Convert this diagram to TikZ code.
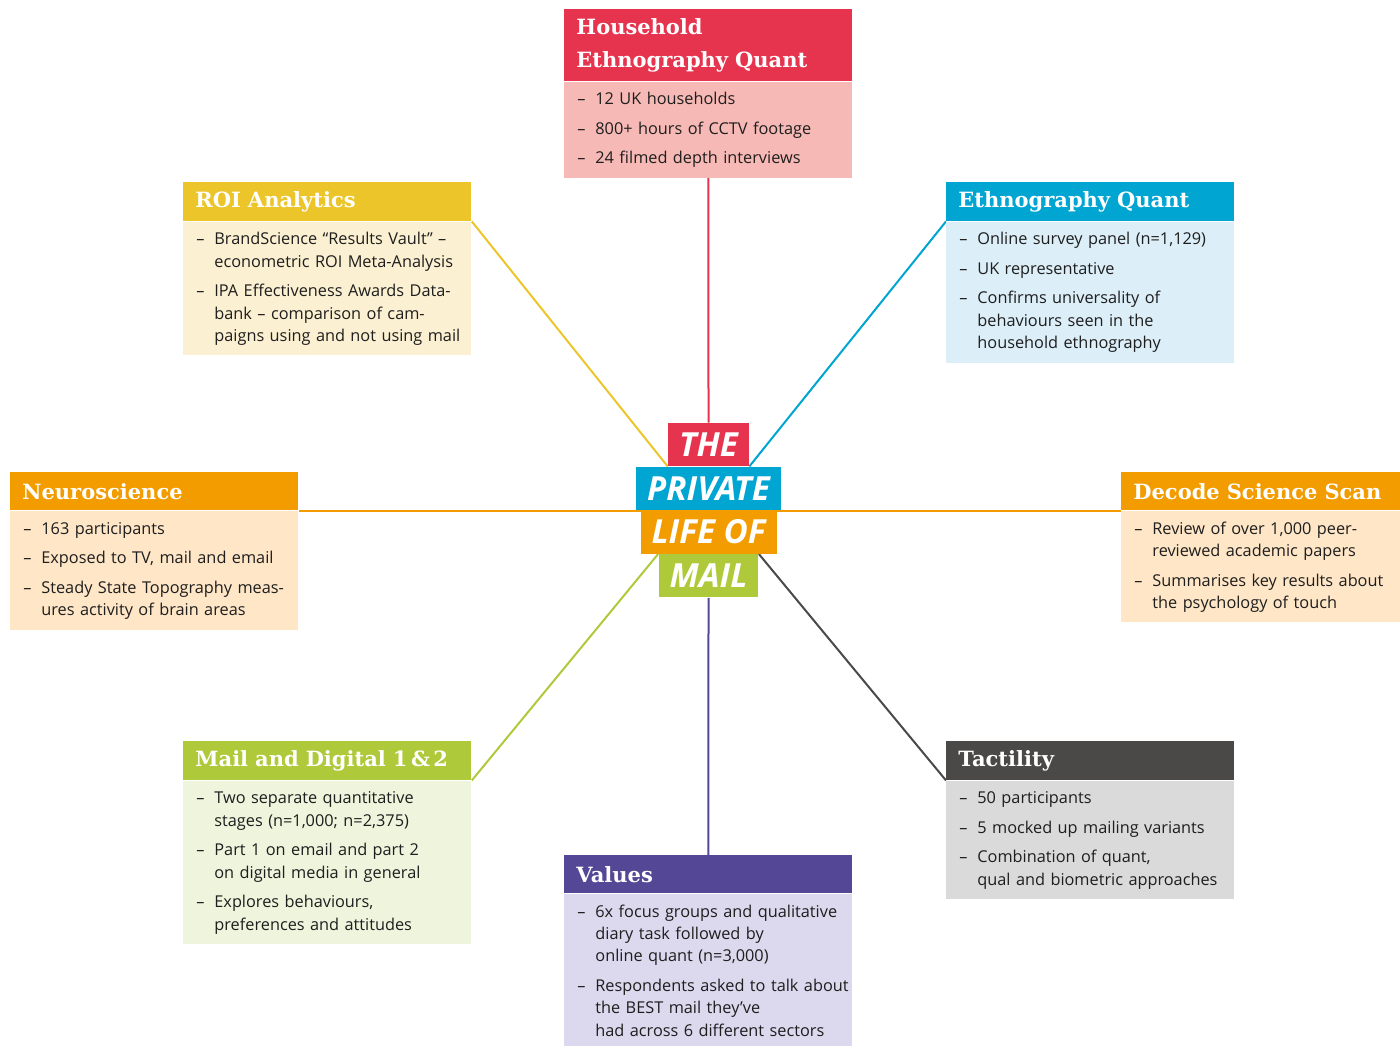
\documentclass[tikz,border=0pt]{standalone}
\usepackage{fontspec}
\setmainfont{Open Sans}
\newfontfamily\slabf{DejaVu Serif}
\newfontfamily\titlef{Open Sans}
\usepackage{xcolor}
\definecolor{redc}{HTML}{E6334E}
\definecolor{redl}{HTML}{F7B9B5}
\definecolor{yelc}{HTML}{ECC52A}
\definecolor{yell}{HTML}{FCF0D2}
\definecolor{bluc}{HTML}{00A5D2}
\definecolor{blul}{HTML}{DCEEF8}
\definecolor{orac}{HTML}{F39C00}
\definecolor{oral}{HTML}{FEE6C7}
\definecolor{grnc}{HTML}{AECA3A}
\definecolor{grnl}{HTML}{EFF4DD}
\definecolor{gryc}{HTML}{4A4948}
\definecolor{gryl}{HTML}{DADADA}
\definecolor{purc}{HTML}{544796}
\definecolor{purl}{HTML}{DCD8EE}
\definecolor{txtc}{HTML}{1E1E1E}
\usepackage{tikz}
\usetikzlibrary{positioning,backgrounds}
\tikzset{
  head/.style={anchor=north west,text=white,font=\slabf\bfseries\fontsize{10.5}{16.5}\selectfont,align=left,inner xsep=6pt,inner ysep=4.5pt,minimum height=19pt},
  body/.style={anchor=north west,text=txtc,font=\fontsize{8.15}{11.2}\selectfont,inner xsep=6.5pt,inner ysep=3.6pt},
  ttl/.style={text=white,font=\titlef\bfseries\itshape\fontsize{16.6}{18}\selectfont,inner xsep=5.5pt,inner ysep=0pt,minimum height=21.5pt},
  link/.style={line width=1pt},
}
\newcommand{\igap}{\\[3.6pt]}
\newcommand{\study}[7][144pt]{%
  \node[head,fill=#4,text width=#1-12pt] (#2) at (#3) {#6};
  \node[body,fill=#5,text width=#1-13pt] (#2-b) at (#2.south west)
    {\begin{tabular}{@{}p{9pt}@{}l@{}}#7\end{tabular}};}

\begin{document}
\begin{tikzpicture}[x=0.5pt,y=-0.5pt]
  \useasboundingbox (0,0) rectangle (1400,1045);
  \study{hh}{564,9}{redc}{redl}{Household\\Ethnography Quant}
    {– & 12 UK households\igap – & 800+ hours of CCTV footage\igap – & 24 filmed depth interviews}
  \study{roi}{183,182}{yelc}{yell}{ROI Analytics}
    {– & BrandScience “Results Vault” –\\ & econometric ROI Meta-Analysis\igap
     – & IPA Effectiveness Awards Data-\\ & bank – comparison of cam-\\ & paigns using and not using mail}
  \study{eth}{946,182}{bluc}{blul}{Ethnography Quant}
    {– & Online survey panel (n=1,129)\igap – & UK representative\igap
     – & Confirms universality of\\ & behaviours seen in the\\ & household ethnography}
  \study{neu}{10,472}{orac}{oral}{Neuroscience}
    {– & 163 participants\igap – & Exposed to TV, mail and email\igap
     – & Steady State Topography meas-\\ & ures activity of brain areas}
  \study[139.5pt]{dec}{1121,472}{orac}{oral}{Decode Science Scan}
    {– & Review of over 1,000 peer-\\ & reviewed academic papers\igap
     – & Summarises key results about\\ & the psychology of touch}
  \study{md}{183,741}{grnc}{grnl}{Mail and Digital 1\,\&\,2}
    {– & Two separate quantitative\\ & stages (n=1,000; n=2,375)\igap
     – & Part 1 on email and part 2\\ & on digital media in general\igap
     – & Explores behaviours,\\ & preferences and attitudes}
  \study{tac}{946,741}{gryc}{gryl}{Tactility}
    {– & 50 participants\igap – & 5 mocked up mailing variants\igap
     – & Combination of quant,\\ & qual and biometric approaches}
  \study{val}{564,855}{purc}{purl}{Values}
    {– & 6x focus groups and qualitative\\ & diary task followed by\\ & online quant (n=3,000)\igap
     – & Respondents asked to talk about\\ & the BEST mail they’ve\\ & had across 6 different sectors}
  \node[ttl,fill=redc] (the) at (708.5,444.5) {THE};
  \node[ttl,fill=bluc,below=0pt of the] (pv) {PRIVATE};
  \node[ttl,fill=orac,below=0pt of pv] (lf) {LIFE OF};
  \node[ttl,fill=grnc,below=0pt of lf] (mail) {MAIL};
  \begin{scope}[on background layer]
    \draw[link,redc] (hh-b.south) -- (the.north);
    \draw[link,yelc] (roi.south east) -- (the.south west);
    \draw[link,bluc] (eth.south west) -- (the.south east);
    \draw[link,orac] (neu.south east) -- (dec.south west);
    \draw[link,grnc] (md.south east) -- (mail.north west);
    \draw[link,gryc] (tac.south west) -- (mail.north east);
    \draw[link,purc] (mail.south) -- (val.north);
  \end{scope}
\end{tikzpicture}
\end{document}
